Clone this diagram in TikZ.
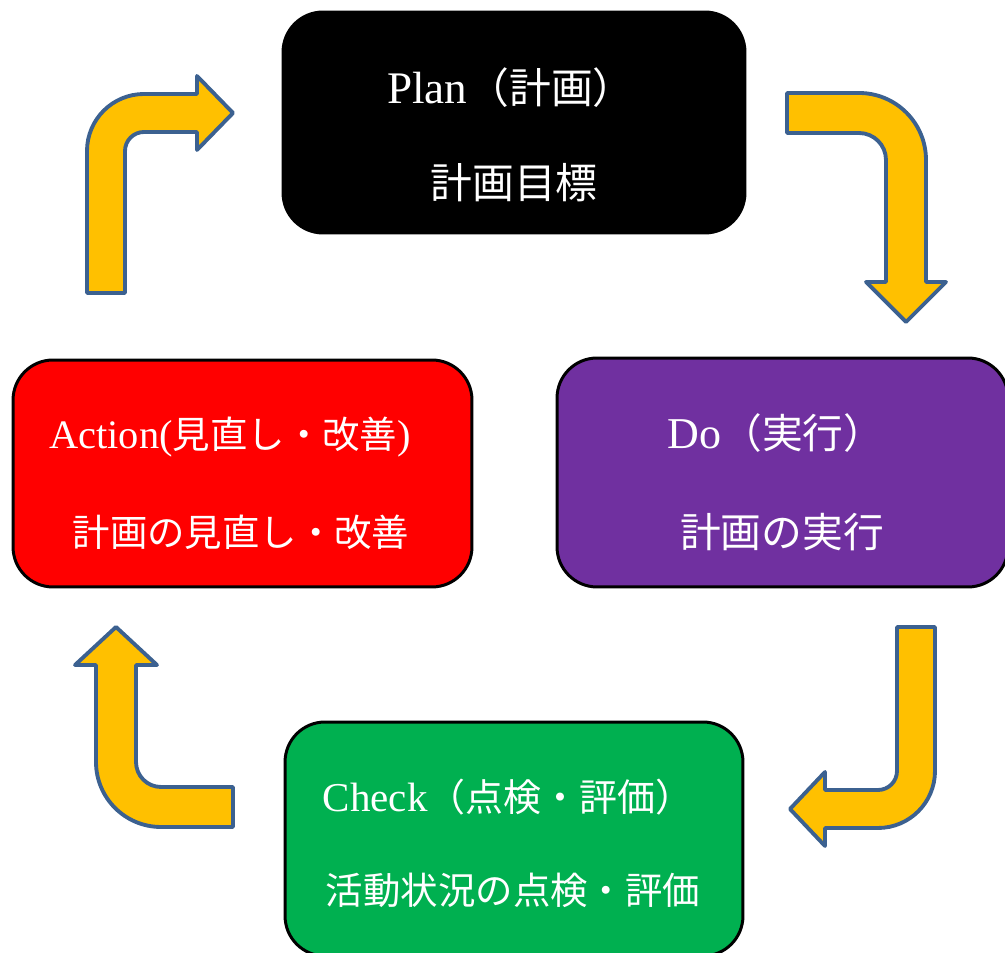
\documentclass[tikz,border=0pt]{standalone}
\usepackage{fontspec}
\setmainfont{Noto Sans CJK JP}
\newfontfamily\latinfont{Liberation Serif}[Scale=1.08]
\usepackage{tikz}
\usetikzlibrary{positioning}
\definecolor{planfill}{HTML}{000000}
\definecolor{dofill}{HTML}{7030A0}
\definecolor{checkfill}{HTML}{00B050}
\definecolor{actfill}{HTML}{FF0000}
\definecolor{arrowfill}{HTML}{FFC000}
\definecolor{arrowline}{HTML}{3C6190}
\tikzset{
  phase/.style={draw=black,line width=1.7pt,rounded corners=0.8cm},
  phasetext/.style={text=white,inner sep=0pt,font=\fontsize{#1}{#1}\selectfont},
  turnarrow/.style={fill=arrowfill,draw=arrowline,line width=2.2pt,line join=round}
}
% bent block arrow: position, rotation, half width, height, radius, head base, tip, head half width
\newcommand{\bentarrow}[8]{%
  \begin{scope}[shift={#1},rotate=#2]
    \draw[turnarrow] (-#3,0) -- (-#3,#4-#5) arc[start angle=180,end angle=90,radius=#5+#3]
      -- (#6,#4+#3) -- (#6,#4+#8) -- (#7,#4) -- (#6,#4-#8) -- (#6,#4-#3)
      -- (#5,#4-#3) arc[start angle=90,end angle=180,radius=#5-#3] -- (#3,0) -- cycle;
  \end{scope}}

\begin{document}
\begin{tikzpicture}[x=0.02cm,y=0.02cm]
  \useasboundingbox (0,0) rectangle (1005,953);
  \clip (0,0) rectangle (1005,953);
  % the four phases
  \node[phase,fill=planfill,minimum width=9.24cm,minimum height=4.42cm] (plan) at (514,830.5) {};
  \node[phase,fill=dofill,minimum width=9.02cm,minimum height=4.58cm] (do) at (782.5,480.5) {};
  \node[phase,fill=checkfill,minimum width=9.16cm,minimum height=4.68cm] (check) at (514,114) {};
  \node[phase,fill=actfill,minimum width=9.18cm,minimum height=4.54cm] (act) at (242.5,479.5) {};
  \node[phasetext=23.8pt] (plan-title) at (511,865) {{\latinfont Plan}（計画）};
  \node[phasetext=23.8pt] (plan-body) at (514,770) {計画目標};
  \node[phasetext=23.2pt] (do-title) at (776,520) {{\latinfont Do}（実行）};
  \node[phasetext=23.2pt] (do-body) at (782,421) {計画の実行};
  \node[phasetext=21.6pt] (check-title) at (508,156) {{\latinfont Check}（点検・評価）};
  \node[phasetext=21.3pt] (check-body) at (513,63) {活動状況の点検・評価};
  \node[phasetext=21.3pt] (act-title) at (230,516) {{\latinfont Action(}見直し・改善{\latinfont )}};
  \node[phasetext=21.3pt] (act-body) at (241,421) {計画の見直し・改善};
  % turning arrows between the phases
  \bentarrow{(106,660)}{0}{19}{180}{38}{91}{127}{37}
  \bentarrow{(787,840)}{-90}{20}{119}{47}{169}{209}{40}
  \bentarrow{(916,326)}{180}{19}{182}{38}{91}{126}{37}
  \bentarrow{(233,146)}{90}{20}{117}{45}{142}{180}{41}
\end{tikzpicture}
\end{document}
